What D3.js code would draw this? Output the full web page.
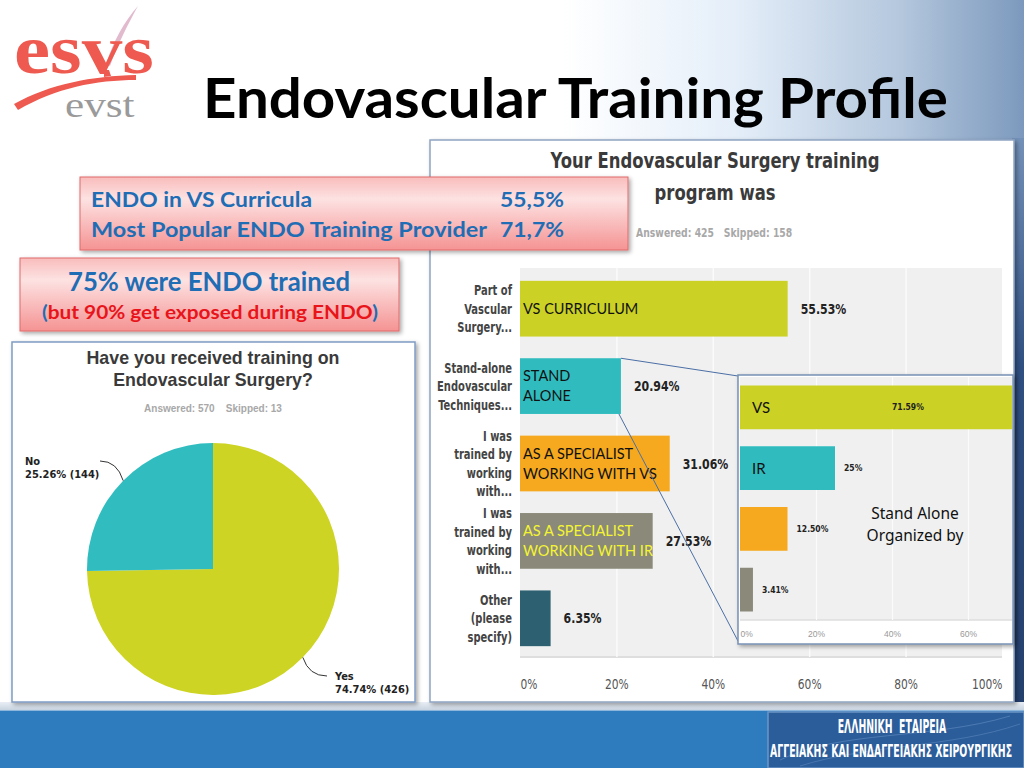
<!DOCTYPE html>
<html>
<head>
<meta charset="utf-8">
<script src="https://cdn.jsdelivr.net/npm/d3@7"></script>
<style>
  body { margin: 0; background: #fff; overflow: hidden; }
  svg { display: block; }
  .narrow { font-family: 'Liberation Sans Narrow', 'DejaVu Sans Condensed', 'Liberation Sans', sans-serif; }
  .calib { font-family: Lato, 'Open Sans', sans-serif; }
</style>
</head>
<body>
<svg id="slide" width="1024" height="768"></svg>
<script>

// pie : "Have you received training on Endovascular Surgery?"
var pieLabels = ["Yes", "No"]
var pieValues = [74.74, 25.26]
var pieCounts = [426, 144]

// main bars : "Your Endovascular Surgery training program was"
var barCategories = [
	["Part of", "Vascular", "Surgery..."],
	["Stand-alone", "Endovascular", "Techniques..."],
	["I was", "trained by", "working", "with..."],
	["I was", "trained by", "working", "with..."],
	["Other", "(please", "specify)"]
]
var barValues = [55.53, 20.94, 31.06, 27.53, 6.35]
var barNotes = [["VS CURRICULUM"], ["STAND", "ALONE"], ["AS A SPECIALIST", "WORKING WITH VS"], ["AS A SPECIALIST", "WORKING WITH IR"], []]
var barTicks = [0, 20, 40, 60, 80, 100]

// inset : stand alone courses organized by
var insetLabels = ["VS", "IR", "", ""]
var insetValues = [71.59, 25, 12.50, 3.41]
var insetValueLabels = ["71.59%", "25%", "12.50%", "3.41%"]
var insetTicks = [0, 20, 40, 60]

var barColors = ["#cbd225", "#30bcbf", "#f6a91e", "#8b8a7a", "#2d6070"]
var noteColors = ["#111", "#111", "#111", "#f4f432", "#111"]
var pieColors = ["#cdd423", "#31bdbf"]

var svg = d3.select("#slide")
var defs = svg.append("defs")

function grad(id, stops, vertical) {
	var g = defs.append("linearGradient").attr("id", id)
		.attr("x1", 0).attr("y1", 0)
		.attr("x2", vertical ? 0 : 1).attr("y2", vertical ? 1 : 0)
	stops.forEach(function(s) {
		g.append("stop").attr("offset", s[0]).attr("stop-color", s[1])
	})
}
grad("bgGrad", [["0", "#ffffff"], ["0.55", "#ffffff"], ["0.72", "#e4eef9"], ["0.88", "#b4c7dd"], ["1", "#7c99bd"]])
grad("edgeGrad", [["0", "#7391b8"], ["0.4", "#2f4f82"], ["1", "#233f6c"]], true)
grad("boxGrad", [["0", "#f9bcbc"], ["0.3", "#fde2e2"], ["1", "#f59393"]], true)
grad("stripGrad", [["0", "#e9eef4"], ["1", "#c4d0de"]], true)

var shadow = defs.append("filter").attr("id", "shadow")
	.attr("x", "-5%").attr("y", "-5%").attr("width", "115%").attr("height", "115%")
shadow.append("feDropShadow").attr("dx", 2).attr("dy", 2).attr("stdDeviation", 2)
	.attr("flood-color", "#000").attr("flood-opacity", 0.35)

// stretch a text to the width it has in the slide
function fit(sel, w) {
	return sel.attr("textLength", w).attr("lengthAdjust", "spacingAndGlyphs")
}

// condensed text: squeeze horizontally around its anchor point
function squeezed(parent, px, py, k) {
	return parent.append("g")
		.attr("transform", "translate(" + px + "," + py + ") scale(" + k + ",1)")
		.append("text").attr("x", 0).attr("y", 0)
}

// ---------- slide background ----------
svg.append("rect").attr("width", 1024).attr("height", 768).attr("fill", "url(#bgGrad)")
svg.append("rect").attr("x", 1012).attr("y", 138).attr("width", 12).attr("height", 574).attr("fill", "url(#edgeGrad)")
svg.append("rect").attr("x", 0).attr("y", 702).attr("width", 1024).attr("height", 9).attr("fill", "url(#stripGrad)")
svg.append("rect").attr("x", 0).attr("y", 710).attr("width", 1024).attr("height", 58).attr("fill", "#2e7bbd")
svg.append("line").attr("x1", 0).attr("x2", 1024).attr("y1", 710.5).attr("y2", 710.5).attr("stroke", "#8db6dc")

// ---------- logo ----------
var logo = svg.append("g")
logo.append("path")
	.attr("d", "M106,64 C114,40 124,22 138,6 C128,24 118,44 110,66 Z")
	.attr("fill", "#d9a9c0").attr("opacity", 0.8)
squeezed(logo, 14, 73, 1.16)
	.attr("font-family", "'Liberation Serif', serif").attr("font-weight", 700)
	.attr("font-size", 70).attr("fill", "#ee5a4f").text("esvs")
logo.append("path")
	.attr("d", "M14,104 C50,84 92,76 136,75 L136,80 C96,80 56,88 18,110 Z")
	.attr("fill", "#ee5a4f")
logo.append("path").attr("d", "M104,70 L109,70 L111,76 L104,77 Z").attr("fill", "#ee5a4f")
squeezed(logo, 65, 117, 1.2)
	.attr("font-family", "'Liberation Serif', serif")
	.attr("font-size", 36).attr("fill", "#9a9a9a").text("evst")

// ---------- title ----------
fit(svg.append("text").attr("x", 203).attr("y", 118)
	.attr("class", "calib").attr("font-weight", 700).attr("font-size", 56)
	.attr("fill", "#000").text("Endovascular Training Profile"), 745)

// ---------- pie panel ----------
var pie = svg.append("g")
pie.append("rect").attr("x", 12).attr("y", 342).attr("width", 403).attr("height", 360)
	.attr("fill", "#fff").attr("stroke", "#7f9cc4").attr("stroke-width", 1.5)
	.attr("filter", "url(#shadow)")

pie.append("text").attr("x", 213).attr("y", 364).attr("text-anchor", "middle")
	.attr("font-family", "'Liberation Sans', Arial, sans-serif").attr("font-weight", 700)
	.attr("font-size", 17.8).attr("fill", "#3a3a3a").text("Have you received training on")
pie.append("text").attr("x", 213).attr("y", 386).attr("text-anchor", "middle")
	.attr("font-family", "'Liberation Sans', Arial, sans-serif").attr("font-weight", 700)
	.attr("font-size", 17.8).attr("fill", "#3a3a3a").text("Endovascular Surgery?")
pie.append("text").attr("x", 213).attr("y", 412).attr("text-anchor", "middle")
	.attr("font-family", "'Liberation Sans', Arial, sans-serif").attr("font-weight", 700)
	.attr("font-size", 10).attr("fill", "#a8a8a8").attr("xml:space", "preserve")
	.text("Answered: 570    Skipped: 13")

var radius = 126
var cx = 213, cy = 569
var arcs = d3.pie().sort(null).value(function(d) { return d })(pieValues)
var arc = d3.arc().innerRadius(0).outerRadius(radius)

var slices = pie.append("g").attr("transform", "translate(" + cx + "," + cy + ")")
slices.selectAll("path")
	.data(arcs)
	.enter().append("path")
	.attr("d", arc)
	.attr("fill", function(d, i) { return pieColors[i] })

// leader lines + labels (yes to lower right, no to upper left)
var labelPos = [[335, 680], [25, 465]]
arcs.forEach(function(a, i) {
	var m = (a.startAngle + a.endAngle) / 2
	var px = cx + Math.sin(m) * radius, py = cy - Math.cos(m) * radius
	var lx = labelPos[i][0], ly = labelPos[i][1]
	var ex = i == 0 ? lx - 8 : lx + 75
	var ey = ly - 4
	var qx = i == 0 ? px + 6 : px - 6
	pie.append("path")
		.attr("d", "M" + px + "," + py + " Q" + qx + "," + ey + " " + ex + "," + ey)
		.attr("fill", "none").attr("stroke", "#333").attr("stroke-width", 1)
	var t = pie.append("text").attr("x", lx).attr("y", ly)
		.attr("font-family", "'DejaVu Sans Condensed', 'Liberation Sans Narrow', sans-serif")
		.attr("font-weight", 700).attr("font-size", 11).attr("fill", "#222")
	t.append("tspan").attr("x", lx).text(pieLabels[i])
	t.append("tspan").attr("x", lx).attr("dy", 13)
		.text(d3.format(".2f")(pieValues[i]) + "% (" + pieCounts[i] + ")")
})

// ---------- bar panel ----------
var bars = svg.append("g")
bars.append("rect").attr("x", 430).attr("y", 140).attr("width", 584).attr("height", 562)
	.attr("fill", "#fff").attr("stroke", "#8ea4c2").attr("stroke-width", 1.5)
	.attr("filter", "url(#shadow)")

squeezed(bars, 715, 168, 0.87).attr("text-anchor", "middle")
	.attr("class", "narrow").attr("font-weight", 700).attr("font-size", 21)
	.attr("fill", "#3a3a3a").text("Your Endovascular Surgery training")
squeezed(bars, 715, 200, 0.87).attr("text-anchor", "middle")
	.attr("class", "narrow").attr("font-weight", 700).attr("font-size", 21)
	.attr("fill", "#3a3a3a").text("program was")
squeezed(bars, 636, 237, 0.86)
	.attr("class", "narrow").attr("font-weight", 700).attr("font-size", 12)
	.attr("fill", "#a8a8a8").attr("xml:space", "preserve")
	.text("Answered: 425   Skipped: 158")

var x = d3.scaleLinear().domain([0, 100]).range([520, 1002])
var y = d3.scaleBand().domain(d3.range(barValues.length))
	.range([270, 657]).paddingInner(0.28).paddingOuter(0.14)

bars.append("rect").attr("x", x(0)).attr("y", 268).attr("width", x(100) - x(0)).attr("height", 389)
	.attr("fill", "#f0f0f0")
bars.append("line").attr("x1", x(0)).attr("x2", x(100)).attr("y1", 657).attr("y2", 657)
	.attr("stroke", "#dedede").attr("stroke-width", 2)

// vertical gridlines
bars.append("g")
	.attr("transform", "translate(0,657)")
	.call(d3.axisBottom(x).tickValues(barTicks.slice(1, -1)).tickSize(-389).tickFormat(""))
	.call(function(g) { g.select(".domain").remove() })
	.selectAll("line").attr("stroke", "#fbfbfb").attr("stroke-width", 1.5)

// tick labels
bars.append("g")
	.attr("transform", "translate(0,676)")
	.call(d3.axisBottom(x).tickValues(barTicks).tickSize(0).tickFormat(function(d) { return d + "%" }))
	.call(function(g) { g.select(".domain").remove() })
	.selectAll("text")
	.attr("class", "narrow").attr("font-size", 14.5).attr("fill", "#555")
	.attr("transform", "scale(0.82,1)")
	.attr("text-anchor", function(d, i) { return i == 0 ? "start" : i == barTicks.length - 1 ? "end" : "middle" })

bars.selectAll(".bar")
	.data(barValues)
	.enter().append("rect")
	.attr("class", "bar")
	.attr("x", x(0))
	.attr("y", function(d, i) { return y(i) })
	.attr("width", function(d) { return x(d) - x(0) })
	.attr("height", y.bandwidth())
	.attr("fill", function(d, i) { return barColors[i] })

// value labels
barValues.forEach(function(d, i) {
	squeezed(bars, x(d) + 13, y(i) + y.bandwidth() / 2 + 5, 0.84)
		.attr("class", "narrow").attr("font-weight", 700).attr("font-size", 14.5).attr("fill", "#222")
		.text(d3.format(".2f")(d) + "%")
})

// category labels, several lines each
barCategories.forEach(function(lines, i) {
	var mid = y(i) + y.bandwidth() / 2
	var t = squeezed(bars, 512, 0, 0.82).attr("class", "narrow").attr("text-anchor", "end")
		.attr("font-weight", 700).attr("font-size", 13.5).attr("fill", "#444")
	lines.forEach(function(l, j) {
		t.append("tspan").attr("x", 0)
			.attr("y", mid + (j - (lines.length - 1) / 2) * 18.5 + 5)
			.text(l)
	})
})

// notes written on the bars
barNotes.forEach(function(lines, i) {
	var mid = y(i) + y.bandwidth() / 2
	lines.forEach(function(l, j) {
		bars.append("text").attr("class", "calib")
			.attr("x", x(0) + 3)
			.attr("y", mid + (j - (lines.length - 1) / 2) * 20 + 5)
			.attr("font-size", 14.5).attr("fill", noteColors[i])
			.text(l)
	})
})

// zoom lines from the stand alone bar to the inset
var iBox = {x0: 738, y0: 375, x1: 1013, y1: 644}
var standEnd = x(barValues[1])
bars.append("line").attr("x1", standEnd).attr("y1", y(1))
	.attr("x2", iBox.x0).attr("y2", iBox.y0 + 1)
	.attr("stroke", "#4b6fa6").attr("stroke-width", 1)
bars.append("line").attr("x1", standEnd - 2).attr("y1", y(1) + y.bandwidth())
	.attr("x2", iBox.x0).attr("y2", iBox.y1 - 3)
	.attr("stroke", "#4b6fa6").attr("stroke-width", 1)

// ---------- inset ----------
var inset = svg.append("g")
defs.append("clipPath").attr("id", "insetClip")
	.append("rect").attr("x", iBox.x0).attr("y", iBox.y0)
	.attr("width", iBox.x1 - iBox.x0).attr("height", iBox.y1 - iBox.y0)

inset.append("rect").attr("x", iBox.x0).attr("y", iBox.y0)
	.attr("width", iBox.x1 - iBox.x0).attr("height", iBox.y1 - iBox.y0)
	.attr("fill", "#fff").attr("stroke", "#7891b5").attr("stroke-width", 1.5)
	.attr("filter", "url(#shadow)")

var x2 = d3.scaleLinear().domain([0, 100]).range([740, 1120])
var y2 = d3.scaleBand().domain(d3.range(insetValues.length))
	.range([377, 620]).paddingInner(0.28).paddingOuter(0.14)

var ic = inset.append("g").attr("clip-path", "url(#insetClip)")
ic.append("rect").attr("x", x2(0)).attr("y", 377).attr("width", 1012 - x2(0)).attr("height", 243)
	.attr("fill", "#f0f0f0")
ic.append("line").attr("x1", x2(0)).attr("x2", 1012).attr("y1", 620).attr("y2", 620)
	.attr("stroke", "#dedede").attr("stroke-width", 1.5)
ic.append("g")
	.attr("transform", "translate(0,620)")
	.call(d3.axisBottom(x2).tickValues(insetTicks.slice(1)).tickSize(-243).tickFormat(""))
	.call(function(g) { g.select(".domain").remove() })
	.selectAll("line").attr("stroke", "#fbfbfb").attr("stroke-width", 1.2)

ic.selectAll(".ibar")
	.data(insetValues)
	.enter().append("rect")
	.attr("class", "ibar")
	.attr("x", x2(0))
	.attr("y", function(d, i) { return y2(i) })
	.attr("width", function(d) { return x2(d) - x2(0) })
	.attr("height", y2.bandwidth())
	.attr("fill", function(d, i) { return barColors[i] })

ic.selectAll(".ival")
	.data(insetValues)
	.enter().append("text")
	.attr("class", "ival")
	.attr("x", function(d) { return x2(d) + 9 > 960 ? x2(40) : x2(d) + 9 })
	.attr("y", function(d, i) { return y2(i) + y2.bandwidth() / 2 + 3 })
	.attr("font-family", "'DejaVu Sans Condensed', sans-serif")
	.attr("font-weight", 700).attr("font-size", 8.5).attr("fill", "#222")
	.text(function(d, i) { return insetValueLabels[i] })

ic.selectAll(".ilab")
	.data(insetLabels)
	.enter().append("text")
	.attr("class", "calib ilab")
	.attr("x", x2(0) + 12)
	.attr("y", function(d, i) { return y2(i) + y2.bandwidth() / 2 + 6 })
	.attr("font-size", 15).attr("fill", "#111")
	.text(function(d) { return d })

ic.append("g")
	.attr("transform", "translate(0,628)")
	.call(d3.axisBottom(x2).tickValues(insetTicks).tickSize(0).tickFormat(function(d) { return d + "%" }))
	.call(function(g) { g.select(".domain").remove() })
	.selectAll("text")
	.attr("font-family", "'Liberation Sans', sans-serif").attr("font-size", 8.5).attr("fill", "#999")
	.attr("text-anchor", function(d, i) { return i == 0 ? "start" : "middle" })

inset.append("text").attr("x", 915).attr("y", 519).attr("text-anchor", "middle")
	.attr("font-family", "'Noto Sans', sans-serif").attr("font-size", 15.5).attr("fill", "#111")
	.text("Stand Alone")
inset.append("text").attr("x", 915).attr("y", 541).attr("text-anchor", "middle")
	.attr("font-family", "'Noto Sans', sans-serif").attr("font-size", 15.5).attr("fill", "#111")
	.text("Organized by")

// ---------- pink call-out boxes ----------
var boxA = svg.append("g")
boxA.append("rect").attr("x", 80).attr("y", 177).attr("width", 548).attr("height", 73)
	.attr("fill", "url(#boxGrad)").attr("stroke", "#e06a6a").attr("stroke-width", 1)
	.attr("filter", "url(#shadow)")
var boxRows = [["ENDO in VS Curricula", "55,5%", 207, 221], ["Most Popular ENDO Training Provider", "71,7%", 237, 396]]
boxRows.forEach(function(r) {
	fit(boxA.append("text").attr("x", 91).attr("y", r[2])
		.attr("class", "calib").attr("font-weight", 700).attr("font-size", 21)
		.attr("fill", "#1f6db4").text(r[0]), r[3])
	fit(boxA.append("text").attr("x", 500).attr("y", r[2])
		.attr("class", "calib").attr("font-weight", 700).attr("font-size", 21)
		.attr("fill", "#1f6db4").text(r[1]), 64)
})

var boxB = svg.append("g")
boxB.append("rect").attr("x", 20).attr("y", 258).attr("width", 379).attr("height", 73)
	.attr("fill", "url(#boxGrad)").attr("stroke", "#e06a6a").attr("stroke-width", 1)
	.attr("filter", "url(#shadow)")
fit(boxB.append("text").attr("x", 68).attr("y", 291)
	.attr("class", "calib").attr("font-weight", 700).attr("font-size", 26)
	.attr("fill", "#1f6db4").text("75% were ENDO trained"), 282)
var sub = boxB.append("text").attr("x", 42).attr("y", 319)
	.attr("class", "calib").attr("font-weight", 700).attr("font-size", 18)
fit(sub, 336)
sub.append("tspan").attr("fill", "#1f6db4").text("(")
sub.append("tspan").attr("fill", "#e8141a").text("but 90% get exposed during ENDO")
sub.append("tspan").attr("fill", "#1f6db4").text(")")

// ---------- greek society banner ----------
var gb = svg.append("g")
gb.append("rect").attr("x", 768).attr("y", 712).attr("width", 256).attr("height", 56)
	.attr("fill", "#2b5d9b").attr("stroke", "#6d95c6").attr("stroke-width", 1.5)
gb.append("path").attr("d", "M780,760 C840,730 930,740 1010,716")
	.attr("fill", "none").attr("stroke", "#5b86bb").attr("stroke-width", 1).attr("opacity", 0.7)
gb.append("path").attr("d", "M800,766 C870,744 950,748 1020,724")
	.attr("fill", "none").attr("stroke", "#5b86bb").attr("stroke-width", 1).attr("opacity", 0.6)
squeezed(gb, 892, 733, 0.56).attr("text-anchor", "middle")
	.attr("font-family", "'DejaVu Sans Condensed', sans-serif").attr("font-weight", 700)
	.attr("font-size", 18.5).attr("fill", "#fff").attr("xml:space", "preserve")
	.text("ΕΛΛΗΝΙΚΗ  ΕΤΑΙΡΕΙΑ")
squeezed(gb, 891, 757, 0.565).attr("text-anchor", "middle")
	.attr("font-family", "'DejaVu Sans Condensed', sans-serif").attr("font-weight", 700)
	.attr("font-size", 18.5).attr("fill", "#fff")
	.text("ΑΓΓΕΙΑΚΗΣ ΚΑΙ ΕΝΔΑΓΓΕΙΑΚΗΣ ΧΕΙΡΟΥΡΓΙΚΗΣ")

</script>
</body>
</html>
